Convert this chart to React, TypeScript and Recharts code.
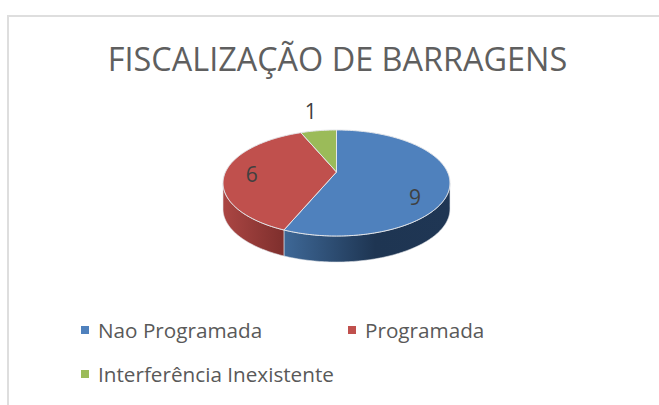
import { Legend, Pie, PieChart } from 'recharts'

const CATEGORIES = ['Nao Programada', 'Programada', 'Interferência Inexistente']
const VALUES = [9, 6, 1]
const COLORS = ['#4f81bd', '#c0504d', '#9bbb59']
const TITLE = 'FISCALIZAÇÃO DE BARRAGENS'

// side wall shading, left to right
const WALL_STOPS = [
  [['0%', '#3e6897'], ['55%', '#1e3552'], ['100%', '#1f3654']],
  [['0%', '#ab4643'], ['100%', '#7e2f2d']],
  [['0%', '#7d9748'], ['100%', '#7d9748']],
]
// label nudges from the slice's mid angle, Excel placed these by hand
const LABEL_OFFSETS = [[0, 18], [-7, 2], [-2, -6]]

const FONT = '"Open Sans", "Noto Sans", sans-serif'
const WIDTH = 659
const HEIGHT = 405
const CX = 336.5
const CY = 172
const RADIUS = 111
const TILT = 0.457
const PERSPECTIVE = 0.2076
const DEPTH = 26
// clockwise degrees from the top where the rim turns away from the viewer
const WALL_FROM = 102
const WALL_TO = 258

const tableData = CATEGORIES.map((name, i) => ({ name, value: VALUES[i], fill: COLORS[i] }))

// Project a point of the flat disc onto the tilted pie. deg is clockwise from the top.
function project(cx: number, cy: number, r: number, deg: number, scale = 1) {
  const a = (deg * Math.PI) / 180
  const u = Math.sin(a) * scale
  const v = -Math.cos(a) * scale
  const w = 1 - PERSPECTIVE * v
  return { x: cx + (r * u) / w, y: cy + (r * TILT * v) / w }
}

function arcPoints(cx: number, cy: number, r: number, from: number, to: number) {
  const pts = []
  for (let d = from; d < to; d += 1) pts.push(project(cx, cy, r, d))
  pts.push(project(cx, cy, r, to))
  return pts
}

function toPath(pts: { x: number; y: number }[]) {
  return pts.map((p, i) => `${i ? 'L' : 'M'}${p.x.toFixed(2)} ${p.y.toFixed(2)}`).join(' ')
}

function Slice3D(props: any) {
  const { cx, cy, outerRadius, startAngle, endAngle, fill, index } = props
  const from = 90 - startAngle
  const to = 90 - endAngle
  const wallFrom = Math.max(from, WALL_FROM)
  const wallTo = Math.min(to, WALL_TO)
  const top = arcPoints(cx, cy, outerRadius, from, to)
  let wall = null
  if (wallFrom < wallTo) {
    const upper = arcPoints(cx, cy, outerRadius, wallFrom, wallTo)
    const lower = upper.map((p) => ({ x: p.x, y: p.y + DEPTH })).reverse()
    wall = (
      <>
        <defs>
          <linearGradient id={`wall-${index}`} x1="0" y1="0" x2="1" y2="0">
            {WALL_STOPS[index].map(([offset, color]) => (
              <stop key={offset} offset={offset} stopColor={color} />
            ))}
          </linearGradient>
        </defs>
        <path
          d={`${toPath([...upper, ...lower])} Z`}
          fill={`url(#wall-${index})`}
          stroke="#dfe3e8"
          strokeWidth={0.6}
        />
      </>
    )
  }
  return (
    <g>
      {wall}
      <path
        d={`M${cx} ${cy} ${toPath(top).replace('M', 'L')} Z`}
        fill={fill}
        stroke="#e4e6ea"
        strokeWidth={1}
        strokeLinejoin="round"
      />
    </g>
  )
}

function sliceLabel(props: any) {
  const { cx, cy, outerRadius, midAngle, value, index } = props
  // the small slice sits outside the rim, the others inside
  const scale = value > 1 ? 0.7 : 1.42
  const p = project(cx, cy, outerRadius, 90 - midAngle, scale)
  const [dx, dy] = LABEL_OFFSETS[index]
  return (
    <text
      key={index}
      x={p.x + dx}
      y={p.y + dy}
      textAnchor="middle"
      dominantBaseline="central"
      fontFamily={FONT}
      fontSize={21}
      fill="#404040"
    >
      {value}
    </text>
  )
}

function LegendRows({ payload }: any) {
  return (
    <div style={{ display: 'grid', gridTemplateColumns: '267px 200px', rowGap: 17 }}>
      {(payload ?? []).map((entry: any) => (
        <div key={entry.value} style={{ display: 'flex', alignItems: 'center', height: 27 }}>
          <span style={{ width: 8, height: 8, background: entry.color, marginRight: 9 }} />
          <span style={{ fontFamily: FONT, fontSize: 20.7, color: '#595959', whiteSpace: 'nowrap' }}>
            {entry.value}
          </span>
        </div>
      ))}
    </div>
  )
}

export default function App() {
  return (
    <div style={{ position: 'absolute', left: 0, top: 0, width: WIDTH, height: HEIGHT, background: '#fff', overflow: 'hidden' }}>
      <div
        style={{
          position: 'absolute',
          left: 7,
          top: 15,
          right: -4,
          bottom: -4,
          borderTop: '2px solid #dedede',
          borderLeft: '2px solid #dedede',
        }}
      />
      <div style={{ position: 'absolute', left: 0, top: 0 }}>
        <PieChart width={WIDTH} height={HEIGHT} margin={{ top: 0, right: 0, bottom: 0, left: 0 }}>
          <text
            x={337.5}
            y={71}
            textAnchor="middle"
            fontFamily={FONT}
            fontSize={32.4}
            fill="#5f5f5f"
          >
            {TITLE}
          </text>
          <Pie
            data={tableData}
            dataKey="value"
            nameKey="name"
            cx={CX}
            cy={CY}
            outerRadius={RADIUS}
            startAngle={90}
            endAngle={-270}
            stroke="none"
            shape={Slice3D}
            label={sliceLabel}
            labelLine={false}
            isAnimationActive={false}
          />
          {/* centered in the middle so the legend reserves no plot space */}
          <Legend
            content={<LegendRows />}
            layout="horizontal"
            verticalAlign="middle"
            align="center"
            itemSorter={null}
            wrapperStyle={{ left: 81, top: 316, width: 470 }}
          />
        </PieChart>
      </div>
    </div>
  )
}
